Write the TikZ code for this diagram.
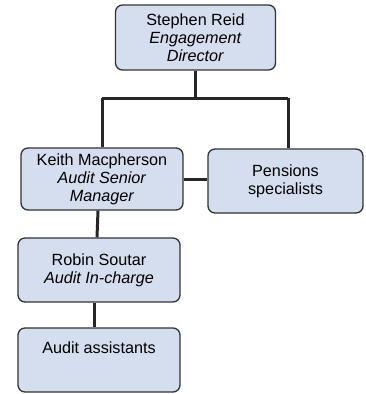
\documentclass[tikz,border=0pt]{standalone}
\usepackage{fontspec}
\setmainfont{Liberation Sans}
\begin{document}
\begin{tikzpicture}[x=1pt,y=-1pt,
  role/.style={draw=black!80, line width=1.3pt, rounded corners=7pt,
    fill={rgb,255:red,212;green,222;blue,238}, align=center,
    font=\fontsize{16.2}{18}\selectfont, inner sep=1pt},
  link/.style={draw=black!85, line width=3pt}]
\useasboundingbox (0,0) rectangle (365,394);
\node[role, minimum width=160pt, minimum height=65pt] (sr) at (195.5,37.5)
  {Stephen Reid\\\textit{Engagement}\\\textit{Director}};
\node[role, minimum width=162pt, minimum height=62pt] (km) at (102,179)
  {Keith Macpherson\\\textit{Audit Senior}\\\textit{Manager}};
\node[role, minimum width=155pt, minimum height=64pt] (ps) at (285.5,181)
  {Pensions\\specialists};
\node[role, minimum width=162pt, minimum height=64pt] (rs) at (99,270)
  {Robin Soutar\\\textit{Audit In-charge}};
\node[role, minimum width=162pt, minimum height=64pt] (aa) at (99,360)
  {Audit assistants\\[6pt]};
% reporting lines
\coordinate (bus) at (195,98);
\coordinate (busl) at (102,98);
\coordinate (busr) at (288,98);
\draw[link] (sr.south -| bus) -- (bus);
\draw[link] (busl) -- (busr);
\draw[link] (busl) -- (busl |- km.north);
\draw[link] (busr) -- (busr |- ps.north);
\draw[link] (km.east) -- (km.east -| ps.west);
\draw[link] ([xshift=-4pt]km.south) -- ([xshift=-2pt]rs.north);
\draw[link] ([xshift=-5pt]rs.south) -- ([xshift=-5pt]aa.north);
\end{tikzpicture}
\end{document}
